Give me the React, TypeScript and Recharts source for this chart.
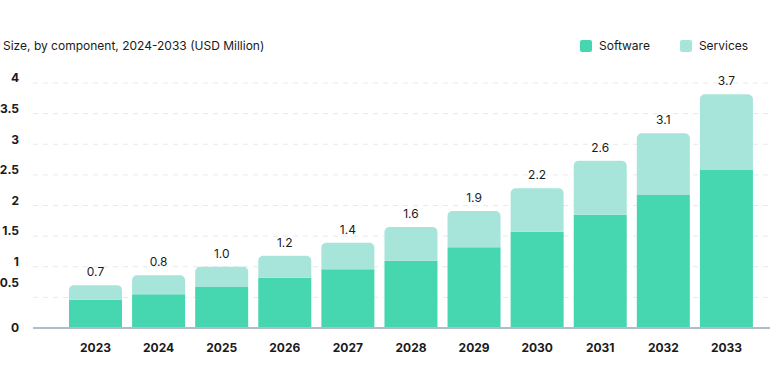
import { BarChart, Bar, XAxis, YAxis, CartesianGrid, LabelList } from 'recharts'

const YEARS = ['2023', '2024', '2025', '2026', '2027', '2028', '2029', '2030', '2031', '2032', '2033']
const SOFTWARE = [0.46, 0.55, 0.67, 0.82, 0.96, 1.1, 1.32, 1.57, 1.85, 2.17, 2.58]
const SERVICES = [0.24, 0.31, 0.33, 0.36, 0.43, 0.55, 0.59, 0.71, 0.88, 1.01, 1.235]
const TOTAL_LABELS = ['0.7', '0.8', '1.0', '1.2', '1.4', '1.6', '1.9', '2.2', '2.6', '3.1', '3.7']
const Y_TICKS = [0, 0.5, 1, 1.5, 2, 2.5, 3, 3.5, 4]

const SOFTWARE_COLOR = '#46d6b0'
const SERVICES_COLOR = '#a7e5da'
const FONT = 'Inter, "Noto Sans", sans-serif'

const data = YEARS.map((year, i) => ({
  year,
  software: SOFTWARE[i],
  services: SERVICES[i],
  label: TOTAL_LABELS[i],
}))

function YTick({ x, y, payload }: any) {
  // labels in the original sit a little above their gridlines
  const shift = payload.value === 0 ? 0 : payload.value === 0.5 ? -15 : -5
  return (
    <text x={x} y={y + shift} dy="0.355em" textAnchor="end" fontSize={12} fontWeight={700} fill="#1a1a1a" fontFamily={FONT}>
      {payload.value}
    </text>
  )
}

function XTick({ x, y, payload }: any) {
  return (
    <text x={x} y={y} dy="0.355em" textAnchor="middle" fontSize={12} fontWeight={700} fill="#1a1a1a" fontFamily={FONT}>
      {payload.value}
    </text>
  )
}

function LegendItem({ color, text }: { color: string; text: string }) {
  return (
    <div style={{ display: 'flex', alignItems: 'center', gap: 7 }}>
      <span style={{ width: 12, height: 12, borderRadius: 2, background: color, display: 'inline-block' }} />
      <span>{text}</span>
    </div>
  )
}

export default function App() {
  return (
    <div style={{ position: 'absolute', left: 0, top: 0, width: 770, height: 373, fontFamily: FONT, color: '#1a1a1a' }}>
      <div style={{ position: 'absolute', left: 3, top: 38, fontSize: 12, lineHeight: '16px', whiteSpace: 'nowrap' }}>
        Size, by component, 2024-2033 (USD Million)
      </div>
      <div style={{ position: 'absolute', left: 580, top: 38, fontSize: 12, lineHeight: '16px', display: 'flex', gap: 30 }}>
        <LegendItem color={SOFTWARE_COLOR} text="Software" />
        <LegendItem color={SERVICES_COLOR} text="Services" />
      </div>
      <BarChart width={770} height={373} data={data} margin={{ top: 83, right: 0, bottom: 0, left: 0 }}>
        <CartesianGrid vertical={false} stroke="#e6e9ed" strokeDasharray="5 5" />
        <XAxis
          dataKey="year"
          height={45}
          padding={{ left: 31, right: 12 }}
          tickLine={false}
          tickSize={0}
          tickMargin={20}
          axisLine={{ stroke: '#b4bcc4', strokeWidth: 2 }}
          tick={<XTick />}
          interval={0}
        />
        <YAxis
          width={33}
          domain={[0, 4]}
          ticks={Y_TICKS}
          axisLine={false}
          tickLine={false}
          tickSize={0}
          tickMargin={14}
          tick={<YTick />}
          interval={0}
        />
        <Bar dataKey="software" stackId="a" fill={SOFTWARE_COLOR} barSize={53} isAnimationActive={false} />
        <Bar dataKey="services" stackId="a" fill={SERVICES_COLOR} barSize={53} radius={[5, 5, 0, 0]} isAnimationActive={false}>
          <LabelList dataKey="label" position="top" offset={9} fontSize={12} fill="#1a1a1a" fontFamily={FONT} />
        </Bar>
      </BarChart>
    </div>
  )
}
